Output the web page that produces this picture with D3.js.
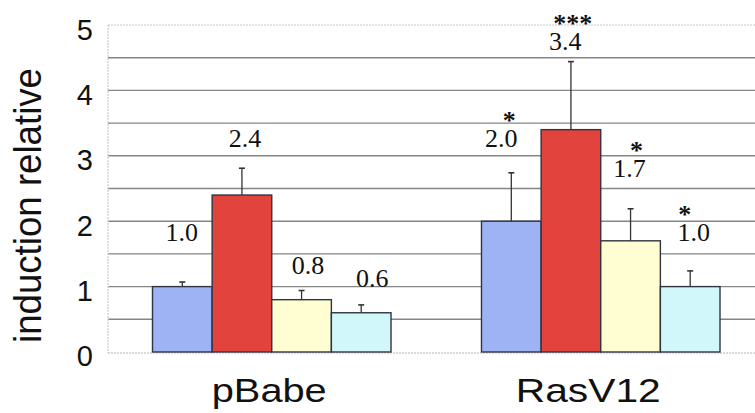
<!DOCTYPE html>
<html>
<head>
<meta charset="utf-8">
<script src="https://cdn.jsdelivr.net/npm/d3@7/dist/d3.min.js"></script>
<style>
  html, body { margin: 0; padding: 0; background: #fff; }
  svg { display: block; }
</style>
</head>
<body>
<svg id="chart" width="755" height="413"></svg>
<script>
// Relative induction per cell line, four conditions each
const groups = ["pBabe", "RasV12"];
const series = ["c1", "c2", "c3", "c4"];
const valuesPBabe = [1.0, 2.4, 0.8, 0.6];
const valuesRas = [2.0, 3.4, 1.7, 1.0];
const errorsPBabe = [0.07, 0.41, 0.14, 0.12];
const errorsRas = [0.74, 1.04, 0.49, 0.24];
const starsPBabe = ["", "", "", ""];
const starsRas = ["*", "***", "*", "*"];
const yTicks = [0, 1, 2, 3, 4, 5];
const yTitle = "induction relative";

const colors = ["#9db3f3", "#e2443d", "#fefed2", "#d2f7fb"];
// per-bar label nudges (dx from bar centre, lift above error cap), pixels
const labelDx = [[-0.5, 3, 6.5, 11], [-10, -5.7, -1, 3.5]];
const labelLift = [[41, 21, 17, 18], [26, 12, 31.5, 30]];
const starDx = [[0, 0, 0, 0], [8, 7.5, 7, -9]];

const rows = [
  { name: groups[0], values: valuesPBabe, errors: errorsPBabe, stars: starsPBabe },
  { name: groups[1], values: valuesRas, errors: errorsRas, stars: starsRas }
];

(function draw() {
  const svg = d3.select("#chart");
  const plotLeft = 108, plotRight = 755, plotTop = 25, plotBottom = 352;

  const y = d3.scaleLinear().domain([0, 5]).range([plotBottom, plotTop]);
  const x0 = d3.scaleBand().domain(groups).range([152.5, 720]).paddingInner(0.275).paddingOuter(0);
  const x1 = d3.scaleBand().domain(series).range([0, x0.bandwidth()]).padding(0);

  // gridlines every half unit
  const grid = d3.range(0.5, 5, 0.5);
  svg.append("g").selectAll("line").data(grid).join("line")
    .attr("x1", plotLeft).attr("x2", plotRight)
    .attr("y1", d => y(d)).attr("y2", d => y(d))
    .attr("stroke", "#858585").attr("stroke-width", 1.4);

  // light dotted frame: top, bottom, left
  svg.append("line").attr("x1", plotLeft).attr("x2", plotRight).attr("y1", y(5)).attr("y2", y(5))
    .attr("stroke", "#c8c8c8").attr("stroke-width", 1.2).attr("stroke-dasharray", "2,1");
  svg.append("line").attr("x1", plotLeft).attr("x2", plotRight).attr("y1", y(0) + 1).attr("y2", y(0) + 1)
    .attr("stroke", "#b8b8b8").attr("stroke-width", 1.2).attr("stroke-dasharray", "2,1");
  svg.append("line").attr("x1", plotLeft).attr("x2", plotLeft).attr("y1", y(5)).attr("y2", y(0) + 1)
    .attr("stroke", "#c8c8c8").attr("stroke-width", 1.2).attr("stroke-dasharray", "2,1");

  // y tick labels
  const yLab = d3.scaleLinear().domain([0, 5]).range([356, 30]);
  svg.append("g").selectAll("text").data(yTicks).join("text")
    .attr("x", 93).attr("y", d => yLab(d))
    .attr("text-anchor", "end").attr("dominant-baseline", "central")
    .attr("font-family", "'Liberation Sans', Arial, sans-serif")
    .attr("font-size", 29).attr("fill", "#111")
    .text(d => d);

  // y axis title
  svg.append("g").attr("transform", "translate(41,205.5) scale(1.2,1) rotate(-90)")
    .append("text")
    .attr("x", 0).attr("y", 0)
    .attr("text-anchor", "middle")
    .attr("font-family", "'Liberation Sans', Arial, sans-serif")
    .attr("font-size", 33).attr("fill", "#111")
    .attr("textLength", 275).attr("lengthAdjust", "spacingAndGlyphs")
    .text(yTitle);

  // bars, error bars and value labels
  const g = svg.append("g").selectAll("g").data(rows).join("g")
    .attr("transform", d => `translate(${x0(d.name)},0)`);

  g.each(function (row, gi) {
    const sel = d3.select(this);
    const items = row.values.map((v, i) => ({ v, e: row.errors[i], s: row.stars[i], i }));
    const cx = d => x1(series[d.i]) + x1.bandwidth() / 2;

    // error bars behind the bars
    sel.selectAll("line.err").data(items).join("line").attr("class", "err")
      .attr("x1", cx).attr("x2", cx)
      .attr("y1", d => y(d.v)).attr("y2", d => y(d.v + d.e))
      .attr("stroke", "#333").attr("stroke-width", 1.3);
    sel.selectAll("line.cap").data(items).join("line").attr("class", "cap")
      .attr("x1", d => cx(d) - 3).attr("x2", d => cx(d) + 3)
      .attr("y1", d => y(d.v + d.e)).attr("y2", d => y(d.v + d.e))
      .attr("stroke", "#333").attr("stroke-width", 1.6);

    sel.selectAll("rect").data(items).join("rect")
      .attr("x", d => x1(series[d.i]))
      .attr("y", d => y(d.v))
      .attr("width", x1.bandwidth())
      .attr("height", d => y(0) - y(d.v))
      .attr("fill", d => colors[d.i])
      .attr("stroke", "#2e3440").attr("stroke-width", 1.4);

    const lx = d => cx(d) + labelDx[gi][d.i];
    const ly = d => y(d.v + d.e) - labelLift[gi][d.i];

    sel.selectAll("text.val").data(items).join("text").attr("class", "val")
      .attr("x", lx).attr("y", ly)
      .attr("text-anchor", "middle")
      .attr("font-family", "'Liberation Serif', 'Times New Roman', serif")
      .attr("font-size", 26).attr("fill", "#111")
      .text(d => d3.format(".1f")(d.v));

    sel.selectAll("text.star").data(items.filter(d => d.s)).join("text").attr("class", "star")
      .attr("x", d => lx(d) + starDx[gi][d.i]).attr("y", d => ly(d) - 18)
      .attr("text-anchor", "middle")
      .attr("font-family", "'Liberation Serif', 'Times New Roman', serif")
      .attr("font-weight", "bold")
      .attr("font-size", 26).attr("fill", "#111")
      .text(d => d.s);
  });

  // category labels
  const catLen = { pBabe: 115, RasV12: 145 };
  const catDx = { pBabe: -2.5, RasV12: -12.5 };
  svg.append("g").selectAll("text").data(groups).join("text")
    .attr("x", d => x0(d) + x0.bandwidth() / 2 + catDx[d])
    .attr("y", 402)
    .attr("text-anchor", "middle")
    .attr("font-family", "'Liberation Sans', Arial, sans-serif")
    .attr("font-size", 33).attr("fill", "#111")
    .attr("textLength", d => catLen[d]).attr("lengthAdjust", "spacingAndGlyphs")
    .text(d => d);
})();
</script>
</body>
</html>
